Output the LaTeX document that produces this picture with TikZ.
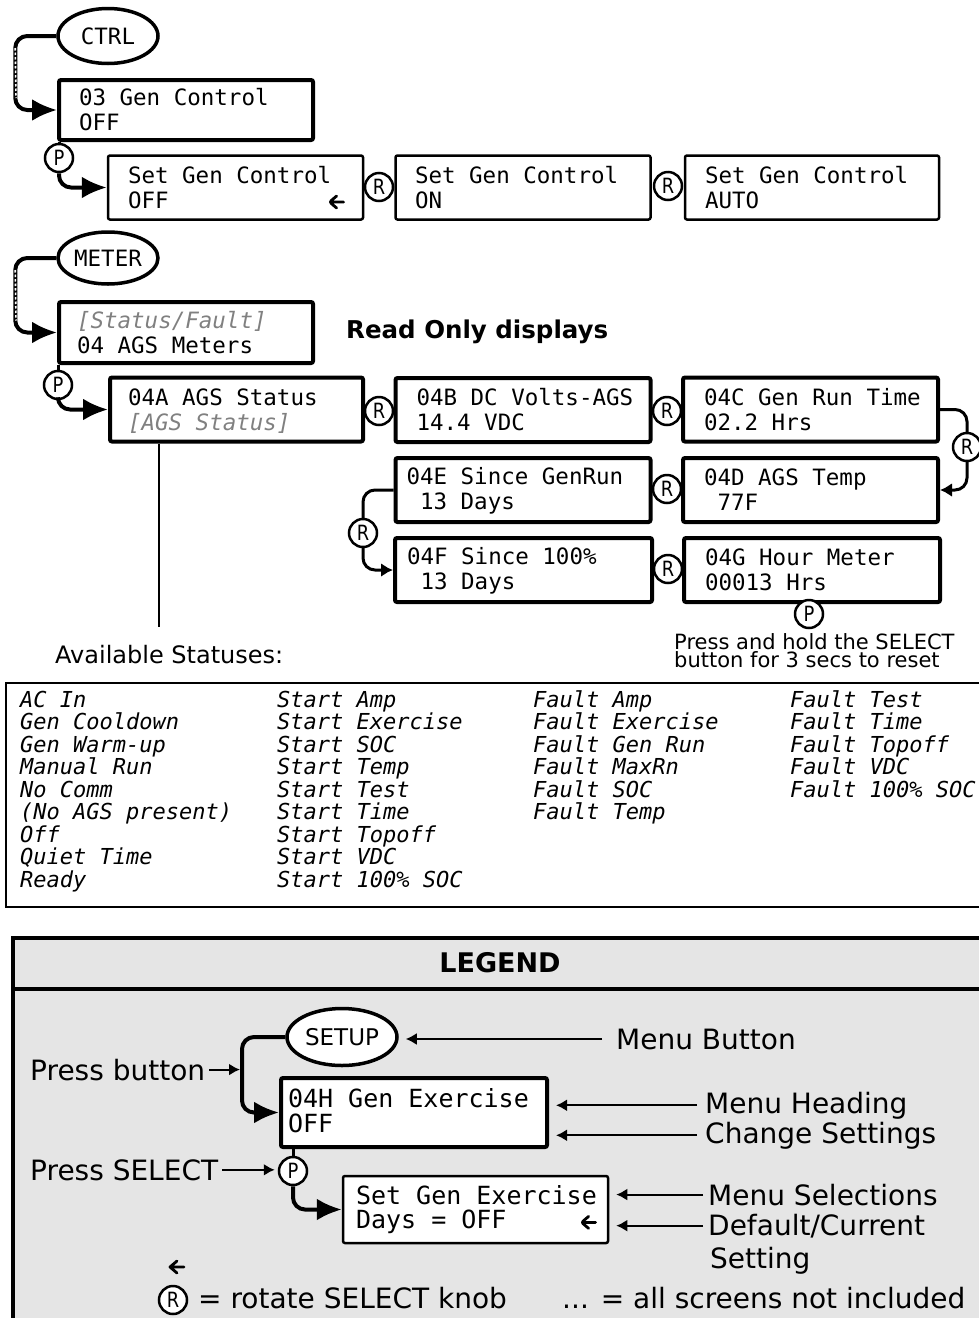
\documentclass[tikz,border=0pt]{standalone}
\usepackage{fontspec}
\setmainfont{DejaVu Sans}
\setmonofont{DejaVu Sans Mono}
\newfontfamily\knobfont[FakeStretch=0.85]{DejaVu Sans}
\usetikzlibrary{arrows.meta, calc, shapes.geometric}
\definecolor{statgray}{gray}{0.5}
\definecolor{legendgray}{gray}{0.9}
% two-line LCD screen text (fixed struts keep baselines steady, normal mono spaces)
\newcommand{\lcd}[2]{\spaceskip=0pt\xspaceskip=0pt\noindent\mbox{\rule[-3pt]{0pt}{22pt}#1}\\\mbox{\rule[-3pt]{0pt}{22pt}#2}}
\newcommand{\lcdl}[2]{\spaceskip=0pt\xspaceskip=0pt\noindent\mbox{\rule[-4pt]{0pt}{20pt}#1}\\\mbox{\rule[-4pt]{0pt}{20pt}#2}}
% current-setting marker (bold left arrow)
\newcommand{\curarrow}{\tikz[baseline={(0pt,-6pt)}]\draw[line width=2.8pt, line cap=round, line join=round]
  (14pt,0pt) -- (1pt,0pt) (7pt,6pt) -- (0pt,0pt) -- (7pt,-6pt);}
\newcommand{\curset}[1]{\makebox[\linewidth][l]{#1\hfill\curarrow\kern-2pt}}

\begin{document}
\begin{tikzpicture}[x=1pt, y=-1pt, >=Latex,
  scr/.style={draw, fill=white, rounded corners=2pt, line width=4pt, minimum width=255pt, minimum height=64pt,
    text width=213pt, inner sep=0pt, align=left, font=\ttfamily\fontsize{22.5}{25}\selectfont},
  sel/.style={scr, line width=2.5pt},
  btn/.style={draw, fill=white, ellipse, line width=3.5pt, minimum width=100pt, minimum height=55pt, inner sep=0pt,
    font=\ttfamily\fontsize{22.5}{25}\selectfont},
  knob/.style={draw, circle, fill=white, line width=2.5pt, minimum size=28pt, inner sep=0pt,
    font=\knobfont\fontsize{21}{21}\selectfont},
  flow/.style={line width=4pt, rounded corners=12pt, -{Latex[length=25pt,width=22pt]}},
  flowsm/.style={line width=3pt, rounded corners=12pt, -{Latex[length=12pt,width=14pt]}},
  ptr/.style={line width=2pt, -{Latex[length=11pt,width=12pt]}, shorten <=8pt, shorten >=7pt},
  gap/.style={white, line width=1.6pt, dash pattern=on 2.5pt off 2pt},
  lbl/.style={anchor=base west, inner sep=0pt, font=\fontsize{28}{33}\selectfont},
  status/.style={anchor=north west, inner sep=0pt, align=left, font=\ttfamily\itshape\fontsize{22}{22.5}\selectfont}]

\useasboundingbox (0,0) rectangle (978,1318);

% ---------- CTRL menu ----------
\node[btn] (ctrl) at (108,36) {CTRL};
\node[scr, minimum width=254pt, minimum height=60pt, text width=214pt] (b03) at (186,110) {\lcd{03 Gen Control}{OFF}};
\draw[flow] (ctrl.west) -- ++(-41,0) |- (b03.west);
\draw[gap] ($(ctrl.west)+(-41,12)$) -- ($(b03.west)+(-41,-12)$);

\node[knob] (p1) at (59,158) {P};
\draw[line width=3pt] (p1.north) -- (p1.north |- b03.south);
\node[sel, text width=215pt] (setoff) at (235.5,187.5) {\lcd{Set Gen Control}{\curset{OFF}}};
\draw[flow] (p1.south) |- (setoff.west);

\node[knob] (r1) at (379,187) {R};
\node[sel, text width=216pt] (seton) at (523,187.5) {\lcd{Set Gen Control}{ON}};
\node[knob] (r2) at (668,186) {R};
\node[sel, minimum width=254pt, text width=214pt] (setauto) at (812,187.5) {\lcd{Set Gen Control}{AUTO}};

% ---------- METER menu ----------
\node[btn, minimum height=52pt] (meter) at (108,258) {METER};
\node[scr, minimum width=254pt, minimum height=61pt, text width=218pt] (m04) at (186,332.5)
  {\lcd{\color{statgray}\itshape[Status/Fault]}{04 AGS Meters}};
\draw[flow] (meter.west) -- ++(-41,0) |- (m04.west);
\draw[gap] ($(meter.west)+(-41,12)$) -- ($(m04.west)+(-41,-12)$);
\node[anchor=west, inner sep=0pt, font=\bfseries\fontsize{24.5}{28}\selectfont] (ro) at (346,332) {Read Only displays};

\node[knob] (p2) at (58,385) {P};
\draw[line width=3pt] (p2.north) -- (p2.north |- m04.south);
\node[scr, minimum width=253pt, text width=217pt] (a04) at (236.5,409.5) {\lcd{04A AGS Status}{\color{statgray}\itshape[AGS Status]}};
\draw[flow] (p2.south) |- (a04.west);

\node[knob] (r3) at (379,411) {R};
\node[scr] (b04) at (523,410) {\lcd{04B DC Volts-AGS}{14.4 VDC}};
\node[knob] (r4) at (667,411) {R};
\node[scr] (c04) at (810.5,409.5) {\lcd{04C Gen Run Time}{02.2 Hrs}};
\node[scr] (d04) at (810.5,490) {\lcd{04D AGS Temp}{\ 77F}};
\coordinate (cdbend) at (967,447);
\draw[flowsm] (c04.east) -| (cdbend) |- (d04.east);
\node[knob] (r5) at (cdbend) {R};

\node[knob] (r6) at (667,489) {R};
\node[scr, text width=233pt] (e04) at (523,490) {\lcd{04E Since GenRun}{\ 13 Days}};
\node[scr, minimum width=257pt, text width=233pt] (f04) at (523.5,570) {\lcd{04F Since 100\%}{\ 13 Days}};
\coordinate (efbend) at (363,533);
\draw[flowsm] (e04.west) -| (efbend) |- (f04.west);
\node[knob] (r7) at (efbend) {R};

\node[knob] (r8) at (668,569) {R};
\node[scr, minimum width=256pt, text width=214pt] (g04) at (812,570) {\lcd{04G Hour Meter}{00013 Hrs}};
\node[knob] (p3) at (809,614) {P};
\node[anchor=north west, inner sep=0pt, align=left, font=\fontsize{21}{18}\selectfont] (note) at (674,633)
  {Press and hold the SELECT\\button for 3 secs to reset};

% ---------- status list ----------
\coordinate (stattop) at (159,627);
\draw[line width=2.5pt] (a04.south -| stattop) -- (stattop);
\node[anchor=base west, inner sep=0pt, font=\fontsize{24}{28}\selectfont] (avail) at (55,663) {Available Statuses:};

\draw[line width=2.5pt] (6,683) rectangle (990,907);
\node[status] (col1) at (20,690) {\rule{0pt}{17pt}AC In\\Gen Cooldown\\Gen Warm-up\\Manual Run\\No Comm\\(No AGS present)\\Off\\Quiet Time\\Ready};
\node[status] (col2) at (277,690) {\rule{0pt}{17pt}Start Amp\\Start Exercise\\Start SOC\\Start Temp\\Start Test\\Start Time\\Start Topoff\\Start VDC\\Start 100\% SOC};
\node[status] (col3) at (533,690) {\rule{0pt}{17pt}Fault Amp\\Fault Exercise\\Fault Gen Run\\Fault MaxRn\\Fault SOC\\Fault Temp};
\node[status] (col4) at (790,690) {\rule{0pt}{17pt}Fault Test\\Fault Time\\Fault Topoff\\Fault VDC\\Fault 100\% SOC};

% ---------- legend ----------
\draw[line width=3.5pt, fill=legendgray] (13,938) rectangle (995,1335);
\draw[line width=3.5pt] (13,989) -- (995,989);
\node[font=\bfseries\fontsize{27}{30}\selectfont] (legend) at (500,963) {LEGEND};

\node[btn, minimum width=110pt, minimum height=57pt, font=\fontsize{23}{25}\selectfont] (setup) at (342,1037) {SETUP};
\node[scr, minimum width=266pt, minimum height=69pt, text width=252pt, font=\ttfamily\fontsize{25}{24.5}\selectfont] (h04) at (414,1112.5)
  {\lcdl{04H Gen Exercise}{OFF}};
\coordinate (lbend) at (242,1078);
\draw[flow] (setup.west) -| (lbend) |- (h04.west);

\node[knob] (lp) at (293,1171) {P};
\draw[line width=3pt] (lp.north) -- (lp.north |- h04.south);
\node[sel, minimum width=265pt, minimum height=67pt, text width=239pt, font=\ttfamily\fontsize{25}{24}\selectfont] (gex) at (475.5,1209.5)
  {\lcdl{Set Gen Exercise}{\curset{Days = OFF}}};
\draw[flow] (lp.south) |- (gex.west);

\node[lbl] (lbtn) at (616,1049) {Menu Button};
\draw[ptr, shorten <=14pt] (lbtn.west) -- (lbtn.west -| setup.east);
\node[lbl] (lhead) at (705,1113) {Menu Heading};
\draw[ptr] (lhead.west) -- (lhead.west -| h04.east);
\node[lbl] (lchg) at (705,1143) {Change Settings};
\draw[ptr] (lchg.west) -- (lchg.west -| h04.east);
\node[lbl] (lsel) at (708,1205) {Menu Selections};
\draw[ptr, shorten <=5pt] (lsel.west) -- (lsel.west -| gex.east);
\node[lbl] (ldef) at (708,1235) {Default/Current};
\draw[ptr, shorten <=5pt] (ldef.west) -- (ldef.west -| gex.east);
\node[lbl] (lset) at (710,1268) {Setting};

\node[lbl] (lpress) at (30,1080) {Press button};
\draw[ptr, shorten <=4pt, shorten >=2pt] (lpress.east) -- (lpress.east -| lbend);
\node[lbl] (lselect) at (30,1180) {Press SELECT};
\draw[ptr, shorten <=4pt, shorten >=3pt] (lselect.east) -- (lselect.east -| lp.west);

\node[inner sep=0pt] (larr) at (177,1267) {\curarrow};
\node[knob] (lr) at (173,1300) {R};
\node[lbl] (lrot) at (198,1308) {= rotate SELECT knob};
\node[lbl] (ldots) at (562,1308) {... = all screens not included};

\end{tikzpicture}
\end{document}
